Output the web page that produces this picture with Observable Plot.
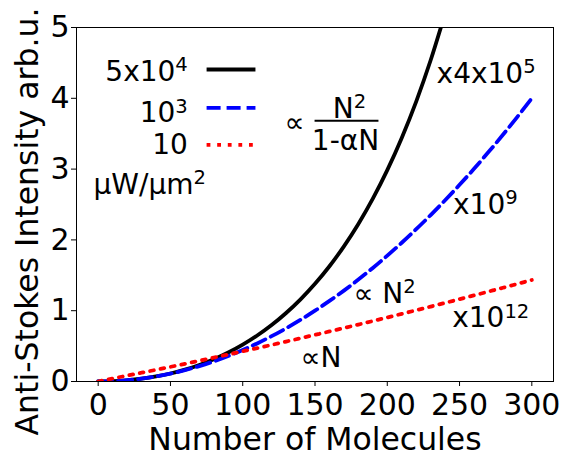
<!DOCTYPE html>
<html><head><meta charset="utf-8">
<script src="https://cdn.jsdelivr.net/npm/d3@7"></script>
<script src="https://cdn.jsdelivr.net/npm/@observablehq/plot@0.6"></script>
<style>html,body{margin:0;padding:0;background:#fff}</style>
</head><body><div id="chart"></div>
<script>
// Number of molecules (x)
const molecules = [0,10,20,30,40,50,60,70,80,90,100,110,120,130,140,150,160,170,180,190,200,210,220,230,240,250,260,270,280,290,300];
// 5x10^4 µW/µm² (x4x10^5), ∝ N²/(1-αN) — leaves the frame near N≈237
const intensityHigh = [0,0.004,0.017,0.039,0.071,0.113,0.167,0.234,0.314,0.41,0.521,0.65,0.798,0.968,1.161,1.38,1.628,1.909,2.225,2.582,2.985,3.44,3.954,4.537,5.199];
// 10^3 µW/µm² (x10^9), ∝ N²
const intensityMid = [0,0.004,0.018,0.04,0.071,0.111,0.16,0.218,0.284,0.36,0.444,0.538,0.64,0.751,0.871,1.0,1.138,1.284,1.44,1.604,1.778,1.96,2.151,2.351,2.56,2.778,3.004,3.24,3.484,3.738,4.0];
// 10 µW/µm² (x10^12), ∝ N
const intensityLow = [0,0.042,0.083,0.124,0.165,0.207,0.249,0.293,0.337,0.381,0.426,0.471,0.517,0.564,0.611,0.659,0.707,0.755,0.804,0.854,0.904,0.955,1.006,1.058,1.11,1.163,1.216,1.27,1.324,1.379,1.434];
const seriesLabels = ["5x10^{4}", "10^{3}", "10"];
const unitLabel = "μW/μm^{2}";
const xTicks = [0,50,100,150,200,250,300];
const yTicks = [0,1,2,3,4,5];

const rows = (vals) => vals.map((v, i) => ({n: molecules[i], v}));
const highRows = rows(intensityHigh), midRows = rows(intensityMid), lowRows = rows(intensityLow);

const FONT = "DejaVu Sans";
const lw = 3.8;
const dashBlue = "14,6";
const dotRed = "3.8,6.8";
const ann = (x, y, t, opts = {}) => Plot.text([{x, y, t}], {x: "x", y: "y", text: "t", textAnchor: "start", lineAnchor: "bottom", fontSize: 28, fill: "black", ...opts});

const chart = Plot.plot({
  width: 564, height: 453,
  marginLeft: 76, marginRight: 11, marginTop: 27, marginBottom: 72,
  style: {fontFamily: FONT, fontSize: "30px", background: "white", color: "black"},
  x: {domain: [-15, 315]},
  y: {domain: [0, 5]},
  marks: [
    Plot.axisX({ticks: xTicks, tickFormat: d3.format("d"), tickSize: 5, tickPadding: 7, fontSize: 30, label: null}),
    Plot.axisY({ticks: yTicks, tickFormat: d3.format("d"), tickSize: 5, tickPadding: 2, fontSize: 30, label: null}),
    Plot.line(highRows, {x: "n", y: "v", stroke: "black", strokeWidth: lw, curve: "monotone-x", clip: true}),
    Plot.line(midRows, {x: "n", y: "v", stroke: "#0000ff", strokeWidth: lw, strokeDasharray: dashBlue, curve: "monotone-x", clip: true}),
    Plot.line(lowRows, {x: "n", y: "v", stroke: "#ff0000", strokeWidth: lw, strokeDasharray: dotRed, curve: "monotone-x", clip: true}),
    Plot.frame({stroke: "black", strokeWidth: 1}),
    // legend
    ann(62, 4.251, seriesLabels[0], {textAnchor: "end"}),
    ann(62, 3.662, seriesLabels[1], {textAnchor: "end"}),
    ann(62, 3.22, seriesLabels[2], {textAnchor: "end"}),
    ann(-3.2, 2.655, unitLabel),
    Plot.link([0], {x1: 75, x2: 108.8, y1: 4.407, y2: 4.407, stroke: "black", strokeWidth: lw}),
    Plot.link([0], {x1: 75, x2: 108.8, y1: 3.866, y2: 3.866, stroke: "#0000ff", strokeWidth: lw, strokeDasharray: dashBlue}),
    Plot.link([0], {x1: 75, x2: 108.8, y1: 3.343, y2: 3.343, stroke: "#ff0000", strokeWidth: lw, strokeDasharray: dotRed}),
    // annotations
    ann(128.9, 3.517, "∝"),
    ann(173.9, 3.725, "N^{2}", {textAnchor: "middle"}),
    Plot.link([0], {x1: 149.7, x2: 193.9, y1: 3.682, y2: 3.682, stroke: "black", strokeWidth: 2}),
    ann(171.1, 3.273, "1-αN", {textAnchor: "middle"}),
    ann(234.1, 4.223, "x4x10^{5}"),
    ann(245.5, 2.368, "x10^{9}"),
    ann(176.6, 1.109, "∝ N^{2}"),
    ann(244.9, 0.767, "x10^{12}"),
    ann(140, 0.198, "∝N"),
    // axis titles
    Plot.text(["Number of Molecules"], {frameAnchor: "bottom", textAnchor: "middle", dy: 68, lineAnchor: "bottom", fontSize: 31.5, fill: "black"}),
    Plot.text(["Anti-Stokes Intensity arb.u."], {frameAnchor: "left", textAnchor: "middle", rotate: -90, dx: -39, dy: 17, lineAnchor: "bottom", fontSize: 31.5, fill: "black"})
  ]
});
document.getElementById("chart").appendChild(chart);

// superscripts as real tspans
const NS = "http://www.w3.org/2000/svg";
chart.querySelectorAll("text").forEach(t => {
  const s = t.textContent;
  if (!/\^\{/.test(s)) return;
  const fs = parseFloat(getComputedStyle(t).fontSize) || 28;
  const r = fs * 0.34;
  const parts = s.split(/(\^\{[^}]*\})/).filter(p => p);
  t.textContent = "";
  let up = false;
  for (const p of parts) {
    const ts = document.createElementNS(NS, "tspan");
    if (p.startsWith("^{")) {
      ts.textContent = p.slice(2, -1);
      ts.setAttribute("font-size", (fs * 0.7).toFixed(1));
      if (!up) ts.setAttribute("dy", (-r).toFixed(1));
      up = true;
    } else {
      ts.textContent = p;
      if (up) ts.setAttribute("dy", r.toFixed(1));
      up = false;
    }
    t.appendChild(ts);
  }
});
</script>
</body></html>
